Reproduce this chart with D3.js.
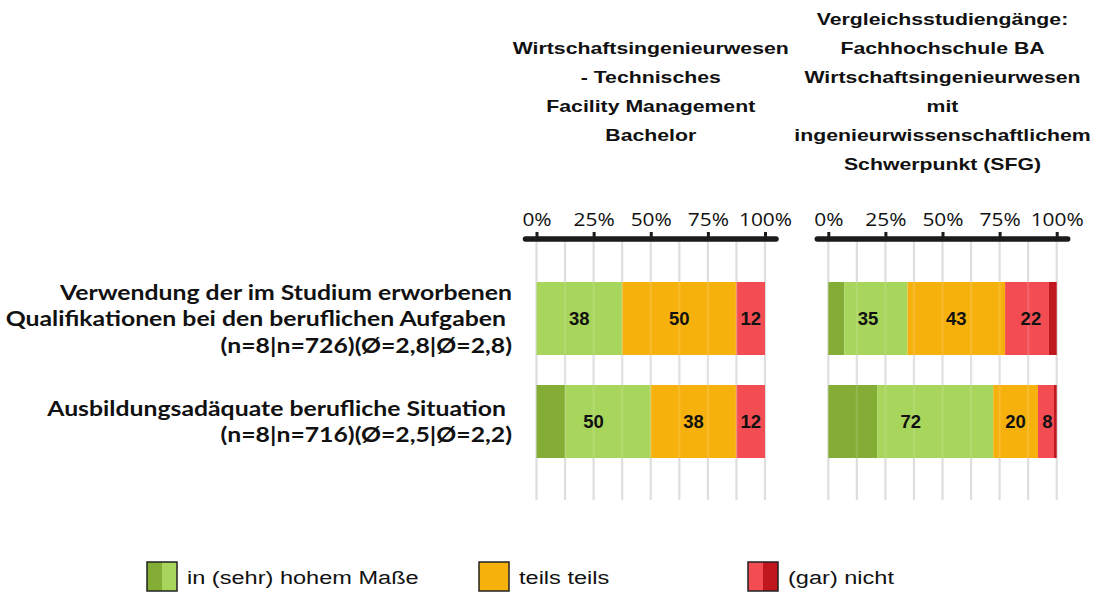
<!DOCTYPE html>
<html>
<head>
<meta charset="utf-8">
<script src="https://cdn.jsdelivr.net/npm/d3@7"></script>
<style>
  body { margin: 0; background: #fff; }
</style>
</head>
<body>
<div id="chart-area"></div>
<script>
// data
var questions = ["verwendung", "adaequat"];
var rowLabels = [
    ["Verwendung der im Studium erworbenen", "Qualifikationen bei den beruflichen Aufgaben\u00a0", "(n=8|n=726)(\u00d8=2,8|\u00d8=2,8)"],
    ["Ausbildungsad\u00e4quate berufliche Situation\u00a0", "(n=8|n=716)(\u00d8=2,5|\u00d8=2,2)"]
];
var panelTitles = [
    ["Wirtschaftsingenieurwesen", "- Technisches", "Facility Management", "Bachelor"],
    ["Vergleichsstudieng\u00e4nge:", "Fachhochschule BA", "Wirtschaftsingenieurwesen", "mit", "ingenieurwissenschaftlichem", "Schwerpunkt (SFG)"]
];
var keys = ["sehrHoch", "hoch", "teils", "nicht", "garNicht"];
// percentages per answer, panel 1 (this programme) and panel 2 (comparison)
var panel1 = [
    { sehrHoch: 0, hoch: 37.5, teils: 50, nicht: 12.5, garNicht: 0 },
    { sehrHoch: 12.5, hoch: 37.5, teils: 37.5, nicht: 12.5, garNicht: 0 }
];
var panel2 = [
    { sehrHoch: 7, hoch: 27.7, teils: 42.7, nicht: 19.2, garNicht: 3.4 },
    { sehrHoch: 21.4, hoch: 50.8, teils: 19.6, nicht: 7, garNicht: 1.2 }
];
// printed labels: (sehr) hoch | teils | (gar) nicht
var labels1 = [[38, 50, 12], [50, 38, 12]];
var labels2 = [[35, 43, 22], [72, 20, 8]];
var tickValues = [0, 0.25, 0.5, 0.75, 1];
var gridValues = [0, 0.125, 0.25, 0.375, 0.5, 0.625, 0.75, 0.875, 1];
var legendNames = ["in (sehr) hohem Ma\u00dfe", "teils teils", "(gar) nicht"];

var colors = {
    sehrHoch: "#83ad35", hoch: "#a8d55c", teils: "#f7b10d",
    nicht: "#f34d53", garNicht: "#c0171f"
};

var W = 1105, H = 593;
var svg = d3.select("#chart-area").append("svg")
    .attr("width", W).attr("height", H);

// helper: text with a horizontal stretch
function stext(parent, x, y, sx) {
    return parent.append("text")
        .attr("transform", "translate(" + x + "," + y + ") scale(" + sx + ",1)");
}

var y = d3.scaleBand()
    .domain(questions)
    .range([267, 473])
    .paddingInner(0.2913)
    .paddingOuter(0.1456);

var panels = [
    { x0: 536.5, x1: 765, data: panel1, labels: labels1, title: panelTitles[0] },
    { x0: 828.3, x1: 1056.7, data: panel2, labels: labels2, title: panelTitles[1] }
];

var stack = d3.stack().keys(keys);

panels.forEach(function(p) {
    var x = d3.scaleLinear().domain([0, 1]).range([p.x0, p.x1]);
    var g = svg.append("g");

    // grid below bars
    g.selectAll(".grid")
        .data(gridValues)
        .enter().append("line")
        .attr("x1", function(d) { return x(d); })
        .attr("x2", function(d) { return x(d); })
        .attr("y1", 239).attr("y2", 500)
        .attr("stroke", "#dedede")
        .attr("stroke-width", 2.2);

    // bars
    var series = stack(p.data);
    g.selectAll(".series")
        .data(series)
        .enter().append("g")
        .attr("fill", function(d) { return colors[d.key]; })
        .selectAll("rect")
        .data(function(d) { return d; })
        .enter().append("rect")
        .attr("x", function(d) { return x(d[0] / 100); })
        .attr("width", function(d) { return x(d[1] / 100) - x(d[0] / 100); })
        .attr("y", function(d, i) { return y(questions[i]); })
        .attr("height", y.bandwidth());

    // faint grid over bars
    g.selectAll(".gridTop")
        .data(gridValues.slice(1, -1))
        .enter().append("line")
        .attr("x1", function(d) { return x(d); })
        .attr("x2", function(d) { return x(d); })
        .attr("y1", 282).attr("y2", 458)
        .attr("stroke", "#fff")
        .attr("stroke-opacity", 0.13)
        .attr("stroke-width", 2.2);

    // value labels centred on grouped segments
    p.data.forEach(function(row, i) {
        var groups = [
            [0, row.sehrHoch + row.hoch],
            [row.sehrHoch + row.hoch, row.sehrHoch + row.hoch + row.teils],
            [row.sehrHoch + row.hoch + row.teils, 100]
        ];
        groups.forEach(function(gr, j) {
            g.append("text")
                .attr("x", x((gr[0] + gr[1]) / 200))
                .attr("y", y(questions[i]) + y.bandwidth() / 2)
                .attr("dy", "0.36em")
                .attr("text-anchor", "middle")
                .attr("font-family", "'Liberation Sans', Arial, sans-serif")
                .attr("font-weight", "bold")
                .attr("font-size", "18.5px")
                .attr("fill", "#111")
                .text(p.labels[i][j]);
        });
    });

    // axis on top
    var axis = g.append("g")
        .attr("transform", "translate(0,239)")
        .call(d3.axisTop(x)
            .tickValues(tickValues)
            .tickFormat(d3.format(".0%"))
            .tickSize(7)
            .tickSizeOuter(0)
            .tickPadding(6));
    axis.select(".domain").remove();
    axis.append("line")
        .attr("x1", x(0) - 11).attr("x2", x(1) + 11)
        .attr("stroke", "#1b1b1b")
        .attr("stroke-width", 5.5)
        .attr("stroke-linecap", "round");
    axis.selectAll(".tick line")
        .attr("stroke", "#1b1b1b")
        .attr("stroke-width", 3);
    axis.selectAll(".tick text")
        .attr("font-family", "'Open Sans', sans-serif")
        .attr("font-size", "19px")
        .attr("fill", "#111")
        .attr("transform", "scale(1.1,1)");

    // title
    var n = p.title.length;
    var cx = (p.x0 + p.x1) / 2;
    p.title.forEach(function(t, i) {
        stext(svg, cx, 91 + (i - (n - 1) / 2) * 29, 1.25)
            .attr("dy", "0.36em")
            .attr("text-anchor", "middle")
            .attr("font-family", "'Liberation Sans', Arial, sans-serif")
            .attr("font-weight", "bold")
            .attr("font-size", "17px")
            .attr("fill", "#111")
            .text(t);
    });
});

// row labels
rowLabels.forEach(function(lines, i) {
    var cy = y(questions[i]) + y.bandwidth() / 2;
    var n = lines.length;
    lines.forEach(function(t, j) {
        stext(svg, 512, cy + (j - (n - 1) / 2) * 26.5, 1.18)
            .attr("dy", "0.36em")
            .attr("text-anchor", "end")
            .attr("font-family", "Lato, sans-serif")
            .attr("font-weight", "bold")
            .attr("font-size", "21px")
            .attr("fill", "#111")
            .text(t);
    });
});

// legend
var legendX = [147, 479, 748];
var legendKeys = [["sehrHoch", "hoch"], ["teils", "teils"], ["nicht", "garNicht"]];
legendNames.forEach(function(name, i) {
    var lg = svg.append("g").attr("transform", "translate(" + legendX[i] + ",562)");
    lg.append("rect").attr("width", 15).attr("height", 29).attr("fill", colors[legendKeys[i][0]]);
    lg.append("rect").attr("x", 15).attr("width", 15).attr("height", 29).attr("fill", colors[legendKeys[i][1]]);
    lg.append("rect").attr("width", 30).attr("height", 29)
        .attr("fill", "none").attr("stroke", "#222").attr("stroke-width", 1.5);
    stext(lg, 40, 15.5, 1.24)
        .attr("dy", "0.36em")
        .attr("font-family", "'Liberation Sans', Arial, sans-serif")
        .attr("font-size", "19px")
        .attr("fill", "#111")
        .text(name);
});
</script>
</body>
</html>
